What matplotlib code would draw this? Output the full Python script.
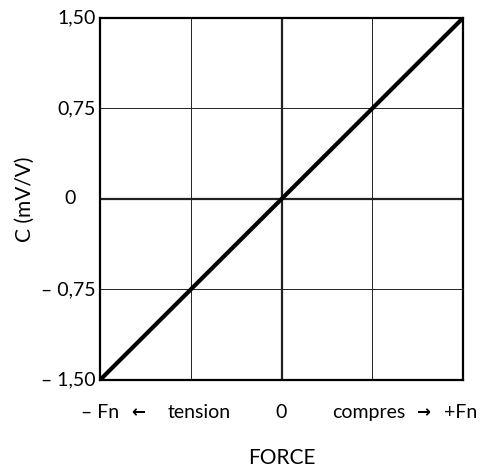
import matplotlib.pyplot as plt
import numpy as np

plt.rcParams['font.family'] = ['Lato', 'DejaVu Sans']

# calibration line: force (normalised to Fn) vs output C in mV/V
force = [-1.0, 1.0]
output = [-1.50, 1.50]

y_ticks = [-1.50, -0.75, 0.0, 0.75, 1.50]
y_labels = ['\u2013 1,50', '\u2013 0,75', '0', '0,75', '1,50']
x_grid = [-0.5, 0.0, 0.5]

fig = plt.figure(figsize=(4.86, 4.70), dpi=100)
ax = fig.add_axes([0.2058, 0.1915, 0.7469, 0.7702])

ax.set_xlim(-1, 1)
ax.set_ylim(-1.5, 1.5)

# grid
for gx in x_grid:
    ax.axvline(gx, color='#222222', lw=1.6 if gx == 0 else 0.7, zorder=1)
for gy in y_ticks[1:-1]:
    ax.axhline(gy, color='#222222', lw=1.6 if gy == 0 else 0.7, zorder=1)

ax.plot(force, output, color='black', lw=3.0, solid_capstyle='round', zorder=3)

for s in ax.spines.values():
    s.set_linewidth(1.6)
ax.set_xticks([])
ax.set_yticks([])

fs = 14
for v, lab in zip(y_ticks, y_labels):
    xoff = -0.083 if v == 0 else -0.012
    ha = 'center' if v == 0 else 'right'
    ax.text(xoff, v, lab, transform=ax.get_yaxis_transform(),
            ha=ha, va='center', fontsize=fs)

ty = -0.09
arrow_kw = dict(transform=ax.transAxes, ha='center', va='center',
                fontsize=12, family='DejaVu Sans', fontweight='bold')
ax.text(0.0, ty, '\u2013 Fn', transform=ax.transAxes, ha='center', va='center', fontsize=fs)
ax.text(0.105, ty, '\u2190', **arrow_kw)
ax.text(0.273, ty, 'tension', transform=ax.transAxes, ha='center', va='center', fontsize=fs)
ax.text(0.5, ty, '0', transform=ax.transAxes, ha='center', va='center', fontsize=fs)
ax.text(0.741, ty, 'compres', transform=ax.transAxes, ha='center', va='center', fontsize=fs)
ax.text(0.89, ty, '\u2192', **arrow_kw)
ax.text(0.948, ty, '+Fn', transform=ax.transAxes, ha='left', va='center', fontsize=fs)

ax.text(0.5, -0.215, 'FORCE', transform=ax.transAxes, ha='center', va='center', fontsize=15)
ax.text(-0.207, 0.5, 'C (mV/V)', transform=ax.transAxes, ha='center', va='center',
        rotation=90, fontsize=15)

fig.savefig('out.png', dpi=100)
